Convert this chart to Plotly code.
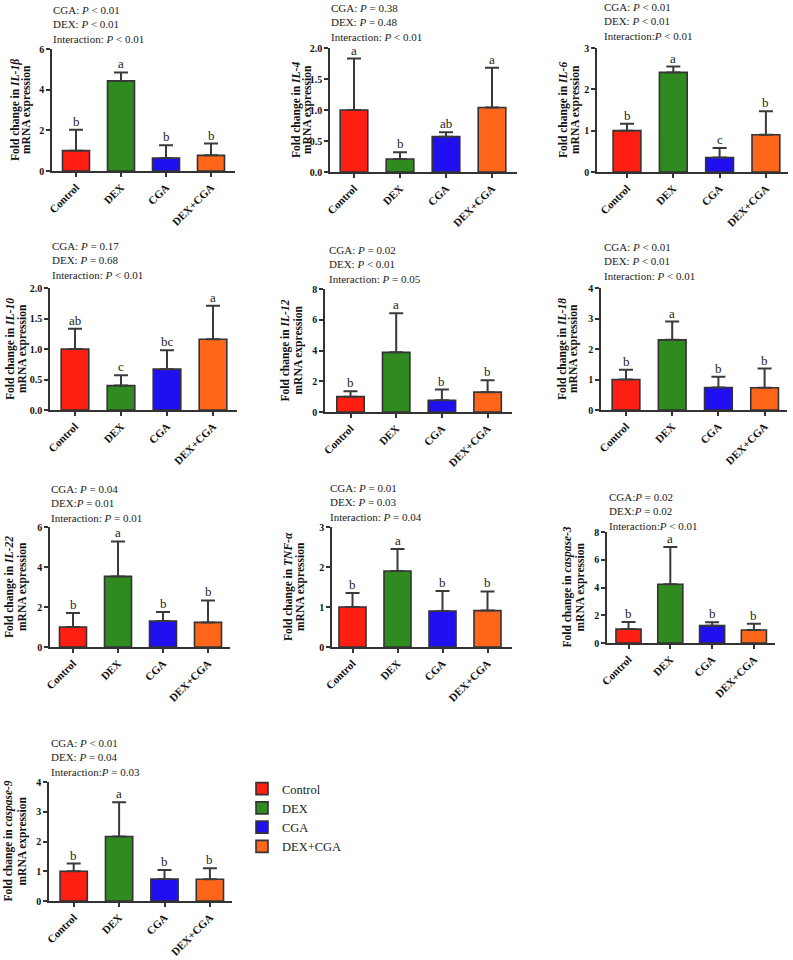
import plotly.graph_objects as go

# ---------------- data ----------------
groups = ["Control", "DEX", "CGA", "DEX+CGA"]
colors = ["#FF1E12", "#2F8A1F", "#2010F0", "#FF661A"]

genes = ["IL-1β", "IL-4", "IL-6", "IL-10", "IL-12", "IL-18", "IL-22", "TNF-α", "caspase-3", "caspase-9"]

mean_il1b = [1.00, 4.43, 0.64, 0.77]
err_il1b = [1.03, 0.42, 0.63, 0.58]
mean_il4 = [1.00, 0.21, 0.57, 1.04]
err_il4 = [0.83, 0.11, 0.07, 0.64]
mean_il6 = [1.00, 2.41, 0.35, 0.90]
err_il6 = [0.17, 0.14, 0.23, 0.57]
mean_il10 = [1.00, 0.40, 0.67, 1.16]
err_il10 = [0.33, 0.17, 0.31, 0.55]
mean_il12 = [1.00, 3.88, 0.76, 1.29]
err_il12 = [0.35, 2.55, 0.70, 0.78]
mean_il18 = [1.00, 2.30, 0.74, 0.73]
err_il18 = [0.32, 0.60, 0.35, 0.63]
mean_il22 = [1.00, 3.53, 1.30, 1.23]
err_il22 = [0.70, 1.75, 0.45, 1.10]
mean_tnfa = [1.00, 1.90, 0.90, 0.91]
err_tnfa = [0.35, 0.55, 0.50, 0.48]
mean_casp3 = [1.00, 4.23, 1.25, 0.94]
err_casp3 = [0.51, 2.69, 0.24, 0.45]
mean_casp9 = [1.00, 2.17, 0.74, 0.73]
err_casp9 = [0.26, 1.15, 0.30, 0.37]

means = [mean_il1b, mean_il4, mean_il6, mean_il10, mean_il12,
         mean_il18, mean_il22, mean_tnfa, mean_casp3, mean_casp9]
errs = [err_il1b, err_il4, err_il6, err_il10, err_il12,
        err_il18, err_il22, err_tnfa, err_casp3, err_casp9]

letters = [
    ["b", "a", "b", "b"],
    ["a", "b", "ab", "a"],
    ["b", "a", "c", "b"],
    ["ab", "c", "bc", "a"],
    ["b", "a", "b", "b"],
    ["b", "a", "b", "b"],
    ["b", "a", "b", "b"],
    ["b", "a", "b", "b"],
    ["b", "a", "b", "b"],
    ["b", "a", "b", "b"],
]

y_max = [6, 2, 3, 2, 8, 4, 6, 3, 8, 4]
y_dtick = [2, 0.5, 1, 0.5, 2, 1, 2, 1, 2, 1]
y_fmt = ["d", ".1f", "d", ".1f", "d", "d", "d", "d", "d", "d"]

p_texts = [
    ["CGA: <i>P</i> &lt; 0.01", "DEX: <i>P</i> &lt; 0.01", "Interaction: <i>P</i> &lt; 0.01"],
    ["CGA: <i>P</i> = 0.38", "DEX: <i>P</i> = 0.48", "Interaction: <i>P</i> &lt; 0.01"],
    ["CGA: <i>P</i> &lt; 0.01", "DEX: <i>P</i> &lt; 0.01", "Interaction:<i>P</i> &lt; 0.01"],
    ["CGA: <i>P</i> = 0.17", "DEX: <i>P</i> = 0.68", "Interaction: <i>P</i> &lt; 0.01"],
    ["CGA: <i>P</i> = 0.02", "DEX: <i>P</i> &lt; 0.01", "Interaction: <i>P</i> = 0.05"],
    ["CGA: <i>P</i> &lt; 0.01", "DEX: <i>P</i> &lt; 0.01", "Interaction: <i>P</i> &lt; 0.01"],
    ["CGA: <i>P</i> = 0.04", "DEX:<i>P</i> = 0.01", "Interaction: <i>P</i> = 0.01"],
    ["CGA: <i>P</i> = 0.01", "DEX: <i>P</i> = 0.03", "Interaction: <i>P</i> = 0.04"],
    ["CGA:<i>P</i> = 0.02", "DEX:<i>P</i> = 0.02", "Interaction:<i>P</i> &lt; 0.01"],
    ["CGA: <i>P</i> &lt; 0.01", "DEX: <i>P</i> = 0.04", "Interaction:<i>P</i> = 0.03"],
]

# ---------------- layout geometry (pixels) ----------------
W, H = 793, 960
# (axis left, first bar centre, bar spacing, axis right, top, bottom)
geom = [
    (52, 76, 45, 235, 49, 171),
    (330, 354, 46, 517, 48, 172),
    (597, 627, 46.3, 788, 48, 172),
    (50, 75, 46, 237, 288, 410),
    (325, 350.5, 45.7, 512, 289, 412),
    (601, 626, 46.2, 787, 288, 410),
    (50, 73, 45, 230, 527, 647),
    (332, 352.5, 45, 512, 527, 647),
    (607, 628.5, 41.8, 775, 532, 643),
    (49, 73.7, 45.4, 232, 782, 901),
]
# p-value text block (left x, top of first line y)
ptext_pos = [(52, 3), (330, 1), (603, 0), (51, 239), (328, 243),
             (603, 240), (50, 482), (329, 481), (608, 490), (50, 736)]
# y-title line x positions
ytitle_pos = [(15, 26), (296, 307), (563, 575), (10, 22), (285, 298),
              (562, 573), (9, 22), (288, 300), (567, 580), (8, 22)]

SERIF = "Liberation Serif"
DARK = "#333333"

fig = go.Figure()
annotations = []
layout_axes = {}

for i in range(10):
    L, c0, s, R, T, B = geom[i]
    xa = "x" if i == 0 else f"x{i+1}"
    ya = "y" if i == 0 else f"y{i+1}"
    xkey = "xaxis" if i == 0 else f"xaxis{i+1}"
    ykey = "yaxis" if i == 0 else f"yaxis{i+1}"

    for g in range(4):
        fig.add_trace(go.Bar(
            x=[g], y=[means[i][g]], width=0.6,
            name=groups[g], legendgroup=groups[g], showlegend=(i == 0),
            marker=dict(color=colors[g], line=dict(color=DARK, width=1.6)),
            error_y=dict(type="data", symmetric=False, array=[errs[i][g]],
                         arrayminus=[0], color="#3a3a3a", thickness=2, width=7),
            xaxis=xa, yaxis=ya, hoverinfo="skip",
        ))
        annotations.append(dict(
            x=g, y=means[i][g] + errs[i][g], xref=xa, yref=ya,
            text=letters[i][g], showarrow=False, yanchor="bottom", xanchor="center",
            yshift=-1, font=dict(family=SERIF, size=13, color="#222"),
        ))

    layout_axes[xkey] = dict(
        domain=[L / W, R / W], range=[(L - c0) / s, (R - c0) / s],
        anchor=ya, tickmode="array", tickvals=[0, 1, 2, 3], ticktext=groups,
        tickangle=-45, showline=True, linecolor=DARK, linewidth=1.5,
        ticks="outside", ticklen=4, tickwidth=1.5, tickcolor=DARK,
        showgrid=False, zeroline=False, automargin=False, fixedrange=True,
        tickfont=dict(family=SERIF, size=11, color="#111", weight="bold"),
    )
    layout_axes[ykey] = dict(
        domain=[1 - B / H, 1 - T / H], range=[0, y_max[i]],
        anchor=xa, dtick=y_dtick[i], tick0=0, tickformat=y_fmt[i],
        showline=True, linecolor=DARK, linewidth=1.5,
        ticks="outside", ticklen=4, tickwidth=1.5, tickcolor=DARK,
        showgrid=False, zeroline=False, automargin=False, fixedrange=True,
        tickfont=dict(family=SERIF, size=10, color="#111", weight="bold"),
    )

    # p-value lines (one block)
    px, py = ptext_pos[i]
    annotations.append(dict(
        x=px / W, y=1 - py / H, xref="paper", yref="paper",
        text="<br>".join(p_texts[i]), showarrow=False, align="left",
        xanchor="left", yanchor="top", borderpad=0,
        font=dict(family=SERIF, size=11, color="#222"),
    ))

    # y-axis title (two lines)
    t1, t2 = ytitle_pos[i]
    yc = 1 - ((T + B) / 2) / H
    annotations.append(dict(
        x=t1 / W, y=yc, xref="paper", yref="paper", textangle=-90,
        text=f"<b>Fold change in <i>{genes[i]}</i></b>", showarrow=False,
        xanchor="center", yanchor="middle", borderpad=0,
        font=dict(family=SERIF, size=11.5, color="#111"),
    ))
    annotations.append(dict(
        x=t2 / W, y=yc, xref="paper", yref="paper", textangle=-90,
        text="<b>mRNA expression</b>", showarrow=False,
        xanchor="center", yanchor="middle", borderpad=0,
        font=dict(family=SERIF, size=11.5, color="#111"),
    ))

fig.update_layout(
    width=W, height=H,
    margin=dict(l=0, r=0, t=0, b=0, pad=0, autoexpand=False),
    paper_bgcolor="white", plot_bgcolor="white",
    barmode="overlay", annotations=annotations,
    font=dict(family=SERIF),
    legend=dict(x=242 / W, y=1 - 774 / H, xanchor="left", yanchor="top",
                font=dict(family=SERIF, size=12.5, color="#222"),
                bgcolor="rgba(0,0,0,0)", traceorder="normal",
                itemclick=False, itemdoubleclick=False),
    **layout_axes,
)

fig.write_html(
    "out.html",
    config={"displayModeBar": False, "responsive": False},
    post_script="document.body.style.margin='0';document.body.style.padding='0';"
                "document.documentElement.style.overflow='hidden';",
)
